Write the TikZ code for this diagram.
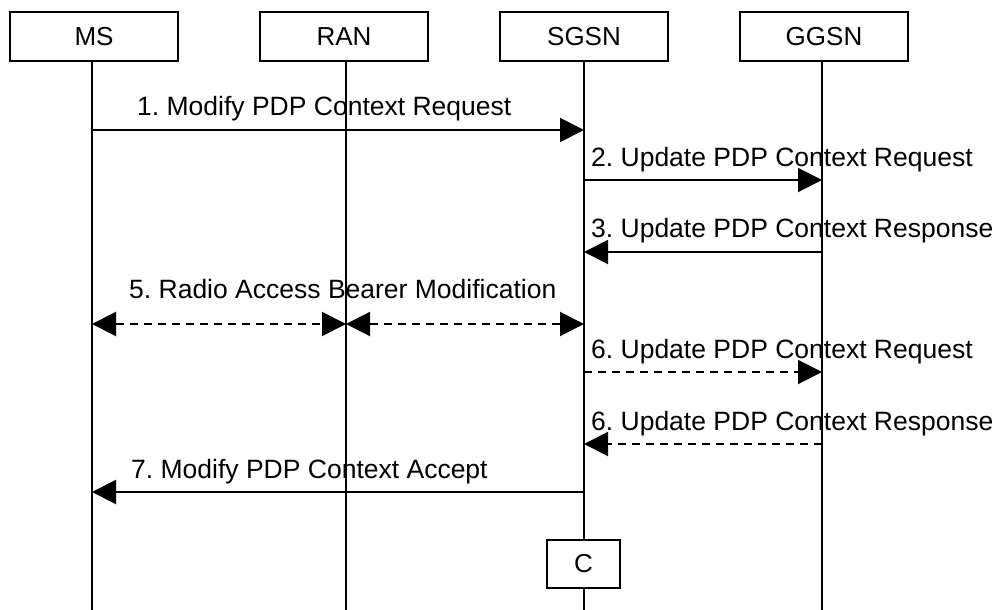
\documentclass[tikz,border=0pt]{standalone}
\usepackage{fontspec}
\setmainfont{Liberation Sans}
\usetikzlibrary{arrows.meta}
\frenchspacing
\begin{document}
\begin{tikzpicture}[x=1pt,y=-1pt,
  ent/.style={draw,line width=1.6pt,minimum width=168pt,minimum height=49pt,inner sep=0pt,fill=white,font=\fontsize{26}{30}\selectfont},
  life/.style={line width=1.6pt},
  msg/.style={line width=2pt,-{Triangle[length=24pt,width=24pt]}},
  dmsg/.style={msg,dash pattern=on 8pt off 6pt},
  dbl/.style={line width=2pt,dash pattern=on 8pt off 6pt,{Triangle[length=24pt,width=24pt]}-{Triangle[length=24pt,width=24pt]}},
  lbl/.style={anchor=base west,inner sep=0pt,font=\fontsize{26.5}{30}\selectfont}]
\useasboundingbox (0,0) rectangle (997,610);
% lifeline ends
\coordinate (msE) at (92,610);
\coordinate (raE) at (346,610);
\coordinate (sgE) at (584,610);
\coordinate (ggE) at (822,610);
% entities
\node[ent] (ms) at (94,36.5) {MS};
\node[ent] (ra) at (344,36.5) {RAN};
\node[ent] (sg) at (584,36.5) {SGSN};
\node[ent] (gg) at (824,36.5) {GGSN};
\draw[life] (msE |- ms.south) -- (msE);
\draw[life] (raE |- ra.south) -- (raE);
\draw[life] (sg.south) -- (sgE);
\draw[life] (ggE |- gg.south) -- (ggE);
% crossing points
\coordinate (m1) at (92,130);  \coordinate (s1) at (584,130);
\coordinate (s2) at (584,180); \coordinate (g2) at (822,180);
\coordinate (g3) at (822,252); \coordinate (s3) at (584,252);
\coordinate (m5) at (92,324);  \coordinate (r5) at (346,324); \coordinate (s5) at (584,324);
\coordinate (s6) at (584,372); \coordinate (g6) at (822,372);
\coordinate (g7) at (822,444); \coordinate (s7) at (584,444);
\coordinate (s8) at (584,492); \coordinate (m8) at (92,492);
% messages
\draw[msg] (m1) -- (s1);
\node[lbl] (t1) at (137,116) {1. Modify PDP Context Request};
\draw[msg] (s2) -- (g2);
\node[lbl] (t2) at (591,166) {2. Update PDP Context Request};
\draw[msg] (g3) -- (s3);
\node[lbl] (t3) at (591,237) {3. Update PDP Context Response};
\draw[dbl] (m5) -- (r5);
\draw[dbl] (r5) -- (s5);
\node[lbl] (t5) at (129,298) {5. Radio Access Bearer Modification};
\draw[dmsg] (s6) -- (g6);
\node[lbl] (t6) at (591,358) {6. Update PDP Context Request};
\draw[dmsg] (g7) -- (s7);
\node[lbl] (t7) at (591,430) {6. Update PDP Context Response};
\draw[msg] (s8) -- (m8);
\node[lbl] (t8) at (131,478) {7. Modify PDP Context Accept};
% C box
\node[ent,minimum width=73pt,minimum height=48pt] (c) at (583.5,564) {C};
\end{tikzpicture}
\end{document}
